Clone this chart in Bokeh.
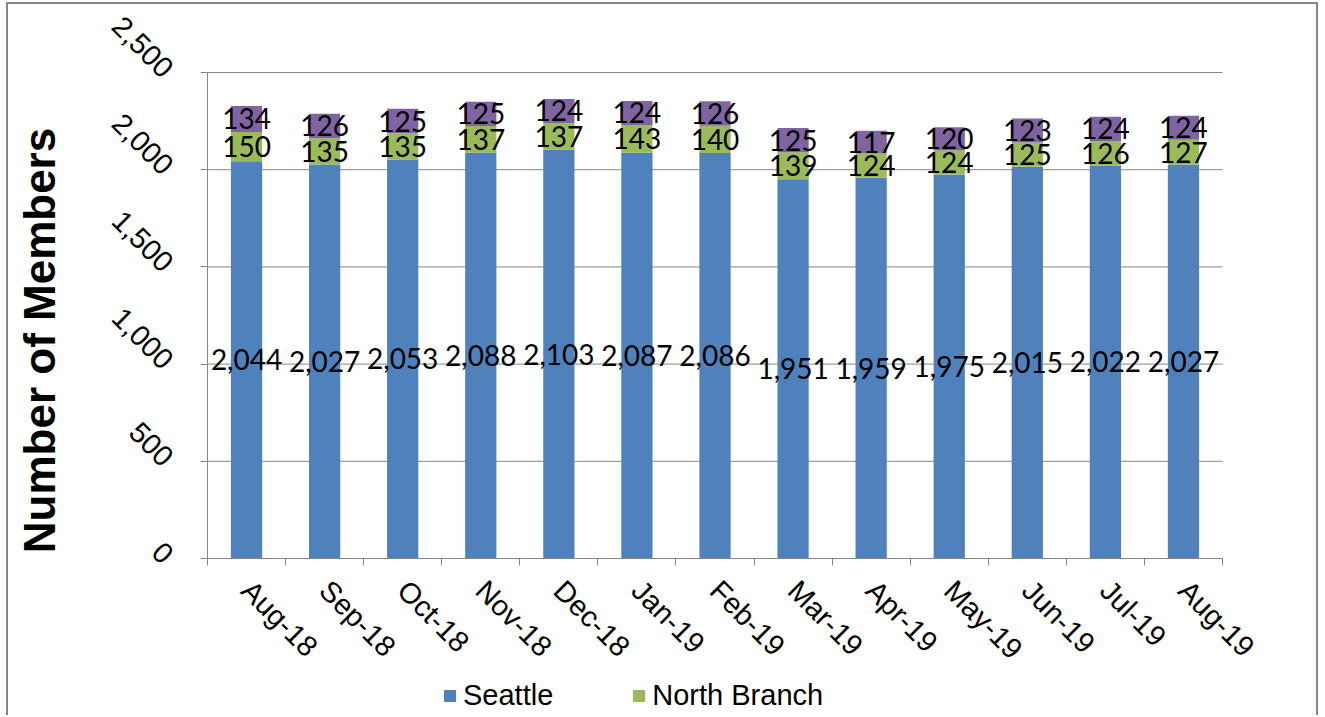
import math
import numpy as np
from bokeh.plotting import figure
from bokeh.models import (ColumnDataSource, Range1d, FixedTicker, NumeralTickFormatter,
                          Legend, LegendItem, Label)
from bokeh.core.properties import value
from bokeh.embed import file_html
from bokeh.resources import INLINE

months = ["Aug-18", "Sep-18", "Oct-18", "Nov-18", "Dec-18", "Jan-19", "Feb-19",
          "Mar-19", "Apr-19", "May-19", "Jun-19", "Jul-19", "Aug-19"]
seattle = [2044, 2027, 2053, 2088, 2103, 2087, 2086, 1951, 1959, 1975, 2015, 2022, 2027]
north_branch = [150, 135, 135, 137, 137, 143, 140, 139, 124, 124, 125, 126, 127]
other = [134, 126, 125, 125, 124, 124, 126, 125, 117, 120, 123, 124, 124]
y_ticks = [0, 500, 1000, 1500, 2000, 2500]
y_max = 2500

BLUE = "#4F81BD"
GREEN = "#9BBB59"
PURPLE = "#8064A2"
GRAY = "#868686"

n = len(months)
xs = np.arange(n) + 0.5
s = np.array(seattle)
nb = np.array(north_branch)
o = np.array(other)

src = ColumnDataSource(dict(x=xs, seattle=s, north=nb, other=o))

lab = ColumnDataSource(dict(
    x=np.concatenate([xs, xs, xs]),
    y=np.concatenate([s / 2, s + nb / 2, s + nb + o / 2]),
    t=[f"{v:,}" for v in seattle] + [f"{v:,}" for v in north_branch] + [f"{v:,}" for v in other],
))

grid_src = ColumnDataSource(dict(y=y_ticks, x0=[0] * len(y_ticks), x1=[n] * len(y_ticks)))

# Layout (canvas pixels): the frame fills the whole canvas; the plotting
# area (0..n, 0..y_max) occupies the box below, axes are pinned to x=0 / y=0.
W, H = 1312, 713
PL, PR, PT, PB = 199, 1214, 68, 554
ppx = (PR - PL) / n
ppy = (PB - PT) / y_max
x_lo, x_hi = -PL / ppx, n + (W - PR) / ppx
y_lo, y_hi = -(H - PB) / ppy, y_max + PT / ppy

p = figure(width=W, height=H, x_range=Range1d(x_lo, x_hi), y_range=Range1d(y_lo, y_hi),
           output_backend="svg", toolbar_location=None,
           min_border_left=0, min_border_right=0, min_border_top=0, min_border_bottom=0)
p.outline_line_color = None
p.xgrid.visible = False
p.ygrid.visible = False
p.styles = {"margin-left": "6px", "margin-top": "2px",
            "border-left": f"2px solid {GRAY}", "border-top": f"2px solid {GRAY}",
            "border-right": f"2px solid {GRAY}"}

# horizontal gridlines over the plotting area only
p.segment(x0="x0", x1="x1", y0="y", y1="y", source=grid_src, line_color=GRAY, line_width=1)

rs = p.vbar_stack(["seattle", "north", "other"], x="x", width=0.4, source=src,
                  color=[BLUE, GREEN, PURPLE], line_color=None)

p.text(x="x", y="y", text="t", source=lab, text_font=value("Lato"),
       text_font_size=value("28px"), text_align="center", text_baseline="middle",
       text_color="black")

# y axis
ya = p.yaxis[0]
ya.fixed_location = 0
ya.ticker = FixedTicker(ticks=y_ticks)
ya.bounds = (0, y_max)
ya.formatter = NumeralTickFormatter(format="0,0")
ya.major_label_orientation = -math.pi / 4
ya.major_label_text_font = "Liberation Sans"
ya.major_label_text_font_size = "29px"
ya.major_label_text_color = "black"
ya.axis_line_color = GRAY
ya.major_tick_line_color = GRAY
ya.major_tick_out = 7
ya.major_tick_in = 0
ya.minor_tick_line_color = None
ya.major_label_standoff = 32

# x axis
xa = p.xaxis[0]
xa.fixed_location = 0
xa.bounds = (0, n)
xa.ticker = FixedTicker(ticks=list(xs), minor_ticks=list(range(n + 1)))
xa.major_label_overrides = {float(x): m for x, m in zip(xs, months)}
xa.major_label_orientation = -math.pi / 4
xa.major_label_text_font = "Liberation Sans"
xa.major_label_text_font_size = "29px"
xa.major_label_text_color = "black"
xa.axis_line_color = GRAY
xa.major_tick_line_color = None
xa.major_tick_out = 7
xa.major_tick_in = 0
xa.minor_tick_line_color = GRAY
xa.minor_tick_out = 7
xa.minor_tick_in = 0
xa.major_label_standoff = 20

p.add_layout(Label(x=31, y=H - 336, x_units="screen", y_units="screen",
                   text="Number of Members", angle=math.pi / 2,
                   text_align="center", text_baseline="middle",
                   text_font="Liberation Sans", text_font_size="44px",
                   text_font_style="bold", text_color="black"))

legend = Legend(items=[LegendItem(label="Seattle", renderers=[rs[0]]),
                       LegendItem(label="North Branch", renderers=[rs[1]])],
                orientation="horizontal", location=(434, 5), margin=0, padding=0,
                label_text_font="Liberation Sans", label_text_font_size="29px",
                label_text_color="black",
                glyph_width=15, glyph_height=15, label_standoff=6, spacing=78,
                border_line_color=None, background_fill_alpha=0)
p.add_layout(legend, "center")

open("out.html", "w").write(file_html(p, INLINE))
